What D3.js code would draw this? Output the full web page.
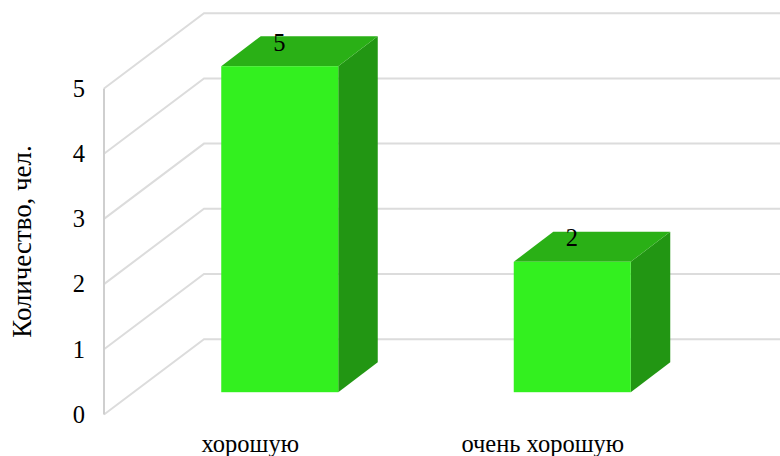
<!DOCTYPE html>
<html><head><meta charset="utf-8">
<script src="https://cdn.jsdelivr.net/npm/d3@7"></script>
<style>html,body{margin:0;padding:0;background:#fff}svg{display:block}text{font-family:"Liberation Serif",serif;fill:#000}</style>
</head><body><svg id="c" width="780" height="456"></svg>
<script>
const categories = ["хорошую", "очень хорошую"];
const values = [5, 2];
const yTicks = [0, 1, 2, 3, 4, 5];
const yTitle = "Количество, чел.";

const svg = d3.select("#c");
const x = d3.scaleBand().domain(categories).range([104, 689]).paddingInner(0.6).paddingOuter(0.3);
const y = d3.scaleLinear().domain([0, 5]).range([414.5, 88.5]);
const wall = {dx: 100, dy: -75.3};
const floor = {dx: 29.5, dy: -22.3};
const depth = {dx: 39.5, dy: -30};
const grid = "#dcdcdc";
const path = pts => d3.line()(pts) + "Z";

yTicks.forEach(t => {
  svg.append("path").attr("fill", "none").attr("stroke", grid).attr("stroke-width", 2)
    .attr("d", d3.line()([[104, y(t)], [104 + wall.dx, y(t) + wall.dy], [780, y(t) + wall.dy]]));
});
svg.append("line").attr("x1", 104).attr("x2", 104).attr("y1", y(5)).attr("y2", y(0))
  .attr("stroke", "#cfcfcf").attr("stroke-width", 2);

svg.selectAll("text.tick").data(yTicks).join("text").attr("class", "tick")
  .attr("x", 85).attr("y", d => y(d)).attr("dy", "0.34em").attr("text-anchor", "end")
  .attr("font-size", 24.5).text(d => d);

svg.append("text").attr("transform", "translate(31,241.5) rotate(-90)")
  .attr("text-anchor", "middle").attr("font-size", 26.9).text(yTitle);

const bars = svg.selectAll("g.bar").data(categories.map((c, i) => ({c, v: values[i]}))).join("g").attr("class", "bar");
const geo = d => {
  const l = x(d.c) + floor.dx, r = l + x.bandwidth(), b = y(0) + floor.dy, t = y(d.v) + floor.dy;
  return {l, r, b, t};
};
bars.append("path").attr("fill", "#229613").attr("d", d => { const g = geo(d);
  return path([[g.r, g.t], [g.r + depth.dx, g.t + depth.dy], [g.r + depth.dx, g.b + depth.dy], [g.r, g.b]]); });
bars.append("path").attr("fill", "#2ab016").attr("d", d => { const g = geo(d);
  return path([[g.l, g.t], [g.l + depth.dx, g.t + depth.dy], [g.r + depth.dx, g.t + depth.dy], [g.r, g.t]]); });
bars.append("rect").attr("fill", "#33f01f")
  .attr("x", d => geo(d).l).attr("y", d => geo(d).t)
  .attr("width", x.bandwidth()).attr("height", d => geo(d).b - geo(d).t);
bars.append("text").attr("x", d => geo(d).l + x.bandwidth() / 2 - 0.5).attr("y", d => geo(d).t - 15.5)
  .attr("text-anchor", "middle").attr("font-size", 24.5).text(d => d.v);

svg.selectAll("text.cat").data(categories).join("text").attr("class", "cat")
  .attr("x", d => x(d) + x.bandwidth() / 2).attr("y", 452).attr("text-anchor", "middle")
  .attr("font-size", 24.5).text(d => d);
</script></body></html>
